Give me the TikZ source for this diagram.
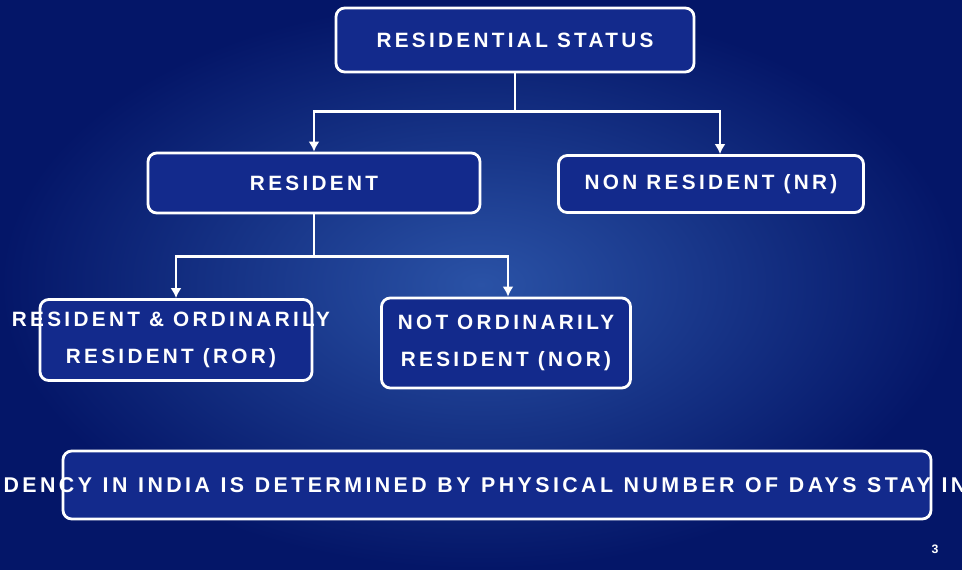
\documentclass[tikz,border=0pt]{standalone}
\usepackage{fontspec}
\setmainfont{Liberation Sans}[LetterSpace=16]
\usetikzlibrary{arrows.meta, positioning}
\definecolor{bgDark}{HTML}{041668}
\definecolor{bgLight}{HTML}{2A52A6}
\definecolor{boxFill}{HTML}{132A8C}

\begin{document}
\begin{tikzpicture}[x=0.2mm, y=-0.2mm, >=Latex,
        font=\bfseries\fontsize{11.8}{21.5}\selectfont,
        box/.style={draw=white, line width=1.6pt, fill=boxFill, rounded corners=5pt,
            text=white, align=center, inner sep=0pt},
        link/.style={white, line width=1.6pt},
        arr/.style={-{Latex[length=2mm, width=2.2mm]}, white, line width=1.6pt}]
        \useasboundingbox (0,0) rectangle (962,569);
        \shade[inner color=bgLight, outer color=bgDark] (0,0) rectangle (962,569);
        \node[box, minimum width=7.16cm, minimum height=1.28cm] (status) at (515,40) {RESIDENTIAL STATUS};
        \node[box, minimum width=6.64cm, minimum height=1.2cm]  (res)    at (314,183) {RESIDENT};
        \node[box, minimum width=6.1cm,  minimum height=1.14cm] (nr)     at (711,184) {NON RESIDENT (NR)};
        \node[box, minimum width=5.44cm, minimum height=1.62cm,
            label={[text=white, align=center, xshift=-1mm]center:{RESIDENT \& ORDINARILY\\RESIDENT (ROR)}}] (ror) at (176,340) {};
        \node[box, minimum width=4.98cm, minimum height=1.8cm]  (nor)    at (506,343) {NOT ORDINARILY\\RESIDENT (NOR)};
        \node[box, minimum width=17.36cm, minimum height=1.36cm,
            label={[text=white, xshift=-0.24cm, font={\bfseries\fontsize{12.15}{14}\selectfont\spaceskip=0.5em\relax}]center:DENCY IN INDIA IS DETERMINED BY PHYSICAL NUMBER OF DAYS STAY IN}] (days) at (497,485) {};
        \node[text=white, font=\bfseries\fontsize{7}{8}\selectfont] (page) at (935,549) {3};
        % connectors
        \draw[arr] (status.south) -- ++(0,38) -| (res.north);
        \draw[arr] (status.south) -- ++(0,38) -| ([xshift=1.8mm]nr.north);
        \draw[arr] (res.south) -- ++(0,42) -| (ror.north);
        \draw[arr] (res.south) -- ++(0,42) -| ([xshift=0.4mm]nor.north);
    \end{tikzpicture}
\end{document}
